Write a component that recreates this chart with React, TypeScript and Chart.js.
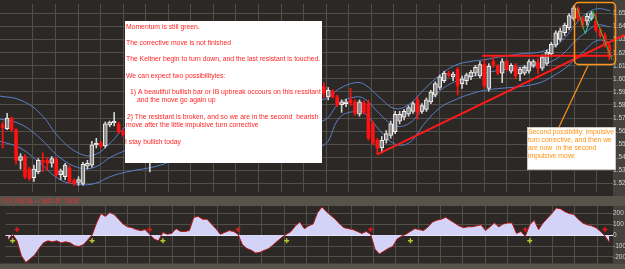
import React, { useEffect, useRef } from "react";
import { Chart, registerables } from "chart.js";
Chart.register(...registerables);

// ---------- DATA ----------
const candleOpen = [1.5648,1.5618,1.5700,1.5611,1.5376,1.5405,1.5310,1.5243,1.5288,1.5376,
 1.5376,1.5354,1.5383,1.5266,1.5251,1.5317,1.5221,1.5207,1.5199,1.5332,
 1.5339,1.5494,1.5508,1.5486,1.5648,1.5663,1.5655,1.5596,1.5574,1.5596,
 1.5611,1.5633,1.5611,1.5545,1.5589,1.5552,1.5611,1.5626,1.5633,1.5663,
 1.5640,1.5648,1.5670,1.5743,1.5780,1.5766,1.5788,1.5751,1.5721,1.5692,
 1.5707,1.5721,1.5714,1.5692,1.5618,1.5589,1.5567,1.5545,1.5574,1.5596,
 1.5611,1.5640,1.5663,1.5685,1.5707,1.5721,1.5766,1.5795,1.5766,1.5780,
 1.5802,1.5868,1.5941,1.5861,1.5905,1.5861,1.5802,1.5810,1.5839,1.5824,
 1.5729,1.5817,1.5810,1.5655,1.5530,1.5471,1.5530,1.5567,1.5596,1.5677,
 1.5707,1.5729,1.5751,1.5839,1.5751,1.5766,1.5824,1.5876,1.5934,1.5986,
 1.6044,1.6015,1.6074,1.5963,1.5986,1.6015,1.6044,1.6022,1.6110,1.5927,
 1.6133,1.6096,1.6044,1.6133,1.6059,1.6096,1.6037,1.6044,1.6059,1.6103,
 1.6125,1.6081,1.6118,1.6191,1.6258,1.6302,1.6353,1.6390,1.6463,1.6537,
 1.6463,1.6441,1.6463,1.6441,1.6375,1.6331,1.6258];
const candleClose = [1.5626,1.5700,1.5611,1.5376,1.5405,1.5251,1.5236,1.5310,1.5376,1.5361,
 1.5354,1.5390,1.5266,1.5295,1.5339,1.5214,1.5199,1.5229,1.5346,1.5354,
 1.5494,1.5508,1.5486,1.5655,1.5670,1.5677,1.5596,1.5574,1.5596,1.5618,
 1.5633,1.5611,1.5574,1.5589,1.5552,1.5618,1.5633,1.5640,1.5663,1.5648,
 1.5655,1.5670,1.5751,1.5780,1.5766,1.5788,1.5751,1.5721,1.5692,1.5707,
 1.5721,1.5714,1.5692,1.5618,1.5589,1.5567,1.5545,1.5574,1.5596,1.5611,
 1.5640,1.5663,1.5685,1.5707,1.5721,1.5766,1.5795,1.5766,1.5780,1.5802,
 1.5868,1.5927,1.5890,1.5912,1.5861,1.5802,1.5824,1.5824,1.5817,1.5736,
 1.5824,1.5743,1.5545,1.5508,1.5471,1.5530,1.5581,1.5655,1.5729,1.5729,
 1.5751,1.5780,1.5810,1.5743,1.5795,1.5839,1.5898,1.5963,1.6015,1.6044,
 1.6030,1.6037,1.5949,1.6000,1.6030,1.6052,1.6088,1.6110,1.5949,1.6096,
 1.6110,1.6044,1.6133,1.6074,1.6103,1.6022,1.6074,1.6088,1.6133,1.6133,
 1.6081,1.6169,1.6206,1.6265,1.6353,1.6368,1.6412,1.6485,1.6544,1.6463,
 1.6412,1.6478,1.6500,1.6375,1.6331,1.6265,1.6184];
const candleHigh = [1.5670,1.5736,1.5707,1.5618,1.5427,1.5420,1.5324,1.5339,1.5390,1.5434,
 1.5398,1.5405,1.5398,1.5310,1.5354,1.5339,1.5236,1.5251,1.5361,1.5376,
 1.5522,1.5545,1.5522,1.5670,1.5677,1.5743,1.5670,1.5611,1.5611,1.5633,
 1.5655,1.5648,1.5626,1.5611,1.5604,1.5633,1.5648,1.5663,1.5685,1.5677,
 1.5670,1.5685,1.5766,1.5802,1.5795,1.5810,1.5802,1.5766,1.5736,1.5721,
 1.5736,1.5736,1.5729,1.5707,1.5633,1.5604,1.5581,1.5589,1.5611,1.5626,
 1.5655,1.5677,1.5700,1.5721,1.5736,1.5780,1.5810,1.5810,1.5795,1.5817,
 1.5883,1.5949,1.5971,1.5934,1.5919,1.5876,1.5839,1.5846,1.5927,1.5839,
 1.5839,1.5831,1.5839,1.5677,1.5545,1.5559,1.5604,1.5677,1.5751,1.5751,
 1.5766,1.5795,1.5824,1.5861,1.5810,1.5854,1.5912,1.5978,1.6030,1.6059,
 1.6059,1.6052,1.6088,1.6022,1.6044,1.6066,1.6103,1.6133,1.6147,1.6118,
 1.6169,1.6110,1.6155,1.6147,1.6118,1.6118,1.6088,1.6103,1.6147,1.6147,
 1.6155,1.6184,1.6221,1.6280,1.6368,1.6390,1.6427,1.6500,1.6559,1.6551,
 1.6478,1.6500,1.6515,1.6500,1.6390,1.6353,1.6280];
const candleLow = [1.5471,1.5611,1.5596,1.5346,1.5310,1.5236,1.5221,1.5214,1.5273,1.5288,
 1.5302,1.5324,1.5251,1.5229,1.5229,1.5199,1.5184,1.5184,1.5184,1.5310,
 1.5324,1.5471,1.5471,1.5471,1.5633,1.5640,1.5581,1.5560,1.5552,1.5581,
 1.5596,1.5589,1.5552,1.5288,1.5530,1.5537,1.5596,1.5611,1.5618,1.5626,
 1.5626,1.5633,1.5655,1.5729,1.5743,1.5751,1.5736,1.5707,1.5677,1.5677,
 1.5692,1.5692,1.5670,1.5604,1.5567,1.5545,1.5522,1.5530,1.5559,1.5581,
 1.5596,1.5626,1.5648,1.5670,1.5692,1.5707,1.5751,1.5743,1.5751,1.5766,
 1.5788,1.5854,1.5854,1.5839,1.5854,1.5788,1.5743,1.5788,1.5795,1.5721,
 1.5714,1.5729,1.5530,1.5494,1.5427,1.5434,1.5508,1.5545,1.5581,1.5655,
 1.5685,1.5714,1.5736,1.5692,1.5736,1.5751,1.5810,1.5861,1.5919,1.5971,
 1.6015,1.5986,1.5876,1.5927,1.5956,1.5993,1.6022,1.6008,1.5927,1.5905,
 1.6088,1.6030,1.5971,1.6059,1.6044,1.6000,1.5986,1.6030,1.6044,1.6088,
 1.6037,1.6066,1.6103,1.6177,1.6243,1.6287,1.6331,1.6375,1.6449,1.6441,
 1.6390,1.6412,1.6449,1.6360,1.6316,1.6243,1.6147];

// Keltner channel readings (bar index -> price)
const bandIdx = [-0.6,3.9,8.4,12.8,17.3,20.7,24.1,27.9,35.3,44.2,53.2,62.2,71.6,75.6,79.0,81.2,84.6,88.0,91.3,94.7,98.1,101.4,104.8,108.1,111.5,116.0,120.5,123.8,126.1,128.3,130.6,133.3,136.2];
const keltnerUpper = [1.5868,1.5839,1.5736,1.5545,1.5427,1.5420,1.5508,1.5640,1.5729,1.5817,1.5839,1.5854,1.5839,1.5927,1.5971,1.5956,1.5854,1.5772,1.5810,1.5927,1.6030,1.6103,1.6133,1.6147,1.6169,1.6191,1.6206,1.6250,1.6316,1.6412,1.6493,1.6537,1.6522];
const keltnerMid = [1.5692,1.5655,1.5545,1.5398,1.5317,1.5324,1.5398,1.5456,1.5545,1.5648,1.5677,1.5721,1.5677,1.5817,1.5861,1.5846,1.5729,1.5640,1.5663,1.5794,1.5912,1.5978,1.6015,1.6044,1.6066,1.6088,1.6103,1.6147,1.6206,1.6287,1.6353,1.6412,1.6397];
const keltnerLower = [1.5522,1.5471,1.5354,1.5229,1.5192,1.5199,1.5251,1.5288,1.5339,1.5456,1.5508,1.5559,1.5486,1.5706,1.5751,1.5736,1.5603,1.5500,1.5515,1.5663,1.5780,1.5839,1.5883,1.5912,1.5927,1.5941,1.5971,1.6030,1.6081,1.6147,1.6221,1.6294,1.6280];

// hand-drawn lines (bar index / price)
const trendIdx = [83.9, 139.5];
const trendVal = [1.5420, 1.6338];
const resistIdx = [107.5, 140];
const resistVal = [1.6177, 1.6177];
const waveAIdx = [128.8, 130.6];
const waveAVal = [1.6544, 1.6346];
const waveBIdx = [130.6, 132.3];
const waveBVal = [1.6346, 1.6507];
const waveCIdx = [132.3, 136.6];
const waveCVal = [1.6522, 1.6147];

const priceTicks = [1.52,1.53,1.54,1.55,1.56,1.57,1.58,1.59,1.60,1.61,1.62,1.63,1.64,1.65];

// CCI(16)
const cciValues = [-43,9,-52,-190,-252,-217,-183,-122,-70,-52,
 -61,-52,-70,-61,-70,-96,-104,-87,-43,3,
 113,200,174,209,191,148,104,78,70,52,
 43,52,9,-35,-52,26,9,17,61,35,
 35,43,165,174,148,148,104,61,9,26,
 43,35,9,-87,-122,-139,-165,-157,-139,-122,
 -87,-52,-17,9,35,87,122,61,87,104,
 209,261,217,183,148,104,70,61,52,35,
 17,35,9,-130,-174,-148,-122,-104,-35,-9,
 9,35,61,52,43,78,122,139,148,165,
 139,113,87,70,78,78,87,96,43,78,
 113,78,104,113,113,17,35,-9,96,139,
 52,113,157,200,252,243,217,200,191,148,
 113,96,87,70,35,-5,-68];
const crossDownIdx = [2, 32, 52, 82, 117, 135];
const crossUpIdx = [1, 19, 35, 63, 91, 118];
const crossMarkLevel = 52;
const cciTicks = [-200, -100, 0, 100, 200];

const leftNote = [
  "Momentum is still green.",
  "The corrective move is not finished",
  "The Keltner begin to turn down, and the last resistant is touched.",
  "We can expect two possibilityies:",
  "1) A beautiful bullish bar or IB upbreak occours on this ressitant",
  "and the move go again up",
  " 2) The resistant is broken, and so we are in the second  bearish",
  "move after the little impulsive turn corrective",
  "I stay bullish today",
];
const rightNote = [
  "Second possibility: impulsive",
  "turn corrective, and then we",
  "are now  in the second",
  "impulsive move",
];
const cciTitle = "CCI_RS(16) \u2014 last=-67.73402";

// ---------- STYLE / LAYOUT ----------
const FONT = "'Liberation Sans', Arial, sans-serif";
const BG = "#2b2825";
const GRID = "#524e49";
const STRIP = "#45413c";
const BAR = "#58544c";
const LABEL = "#d2d2d2";
const X_MIN = -0.6, X_MAX = 136.84;
const GRID_START = 6.79, GRID_STEP = 5.058, GRID_COUNT = 26;
const AXIS_W = 12;

const leftNoteLayout = { box: [125, 21, 197, 142], pos: [[126,27],[126,43],[126,59],[126,76],[130,92],[137,100],[125,117],[126,125],[125,142]] };
const rightNoteLayout = { box: [527, 127, 89, 43], x: 528, ys: [132, 140, 148, 156] };

function xGrid(scale: any) {
  const t: any[] = [];
  for (let k = 0; k < GRID_COUNT; k++) t.push({ value: GRID_START + GRID_STEP * k });
  scale.ticks = t;
}

const xScale = () => ({
  type: "linear", min: X_MIN, max: X_MAX, offset: false,
  afterBuildTicks: xGrid,
  afterFit: (s: any) => { s.height = 0; },
  ticks: { display: false },
  grid: { color: GRID, lineWidth: 1, drawTicks: false, offset: false },
  border: { display: false },
});

const pts = (xs: number[], ys: number[]) => xs.map((x, k) => ({ x, y: ys[k] }));

export default function App() {
  const mainRef = useRef<HTMLCanvasElement>(null);
  const cciRef = useRef<HTMLCanvasElement>(null);

  useEffect(() => {
    const idx = candleOpen.map((_, i) => i);
    const bull = idx.filter((i) => candleClose[i] >= candleOpen[i]);
    const bear = idx.filter((i) => candleClose[i] < candleOpen[i]);

    const bgPlugin = {
      id: "bgMain",
      beforeDraw(chart: any) {
        const { ctx, width, height, chartArea } = chart;
        ctx.save();
        ctx.fillStyle = BG;
        ctx.fillRect(0, 0, width, height);
        ctx.fillStyle = STRIP;
        ctx.fillRect(chartArea.right, 0, width - chartArea.right, height);
        ctx.restore();
      },
    };

    const notesPlugin = {
      id: "notes",
      afterDraw(chart: any) {
        const ctx = chart.ctx;
        ctx.save();
        const b = leftNoteLayout.box;
        ctx.fillStyle = "#ffffff";
        ctx.fillRect(b[0], b[1], b[2], b[3]);
        ctx.font = `6.8px ${FONT}`;
        ctx.textBaseline = "middle";
        ctx.textAlign = "left";
        ctx.fillStyle = "#ff2424";
        leftNote.forEach((t, k) => {
          const p = leftNoteLayout.pos[k];
          ctx.fillText(t, p[0], p[1], b[0] + b[2] - p[0] - 1);
        });
        ctx.strokeStyle = "#ff9418";
        ctx.lineWidth = 1.5;
        ctx.beginPath();
        (ctx as any).roundRect(574.5, 2.5, 41, 62, 4);
        ctx.stroke();
        ctx.lineWidth = 1.2;
        ctx.beginPath();
        ctx.moveTo(588, 65.5);
        ctx.lineTo(559, 127);
        ctx.stroke();
        const r = rightNoteLayout.box;
        ctx.fillStyle = "#ffffff";
        ctx.fillRect(r[0], r[1], r[2], r[3]);
        ctx.strokeStyle = "#c8c8c8";
        ctx.lineWidth = 1;
        ctx.strokeRect(r[0] + 0.5, r[1] + 0.5, r[2] - 1, r[3] - 1);
        ctx.fillStyle = "#ff9312";
        ctx.font = `6.8px ${FONT}`;
        rightNote.forEach((t, k) => ctx.fillText(t, rightNoteLayout.x, rightNoteLayout.ys[k], r[2] - 3));
        ctx.restore();
      },
    };

    const line = (label: string, data: any[], color: string, width: number, order: number, extra: any = {}) => ({
      type: "line", label, data, borderColor: color, borderWidth: width, pointRadius: 0, fill: false, order, ...extra,
    });

    const main = new Chart(mainRef.current as any, {
      type: "line",
      data: {
        datasets: [
          line("wave A", pts(waveAIdx, waveAVal), "#2bc43a", 1, 0),
          line("wave B", pts(waveBIdx, waveBVal), "#3fd8d0", 1, 0),
          line("wave C", pts(waveCIdx, waveCVal), "#2bc43a", 1, 0),
          line("trend", pts(trendIdx, trendVal), "#ff1a1a", 2, 1, { clip: false }),
          line("resistance", pts(resistIdx, resistVal), "#ff1a1a", 2, 1),
          {
            type: "bar", label: "bull body", order: 2, grouped: false,
            data: bull.map((i) => ({ x: i, y: [candleOpen[i], candleClose[i]] })),
            backgroundColor: "#8c8c8c", borderColor: "#f2f2f2", borderWidth: 1, borderSkipped: false, barThickness: 4,
          },
          {
            type: "bar", label: "bear body", order: 2, grouped: false,
            data: bear.map((i) => ({ x: i, y: [candleOpen[i], candleClose[i]] })),
            backgroundColor: "#ff1212", borderWidth: 0, barThickness: 3,
          },
          {
            type: "bar", label: "bull wick", order: 3, grouped: false,
            data: bull.map((i) => ({ x: i, y: [candleLow[i], candleHigh[i]] })),
            backgroundColor: "#d0d0d0", borderWidth: 0, barThickness: 1,
          },
          {
            type: "bar", label: "bear wick", order: 3, grouped: false,
            data: bear.map((i) => ({ x: i, y: [candleLow[i], candleHigh[i]] })),
            backgroundColor: "#ff1212", borderWidth: 0, barThickness: 1,
          },
          line("upper", pts(bandIdx, keltnerUpper), "#5b7fc6", 1, 4, { tension: 0.4 }),
          line("middle", pts(bandIdx, keltnerMid), "#5b7fc6", 1, 4, { tension: 0.4 }),
          line("lower", pts(bandIdx, keltnerLower), "#5b7fc6", 1, 4, { tension: 0.4 }),
        ] as any,
      },
      options: {
        responsive: false, animation: false, devicePixelRatio: 1, events: [],
        layout: { padding: 0 },
        plugins: { legend: { display: false }, tooltip: { enabled: false } },
        scales: {
          x: xScale() as any,
          y: {
            type: "linear", position: "right", min: 1.5133, max: 1.6574, beginAtZero: false,
            afterBuildTicks: (s: any) => { s.ticks = priceTicks.map((v) => ({ value: v })); },
            afterFit: (s: any) => { s.width = AXIS_W; },
            ticks: { color: LABEL, padding: 0, font: { size: 6.5, family: FONT }, callback: (v: any) => Number(v).toFixed(4) },
            grid: { color: GRID, lineWidth: 1, drawTicks: false },
            border: { display: false },
          },
        },
      } as any,
      plugins: [bgPlugin, notesPlugin],
    });

    const cciBg = {
      id: "bgCci",
      beforeDraw(chart: any) {
        const { ctx, width, height, chartArea } = chart;
        ctx.save();
        ctx.fillStyle = BG;
        ctx.fillRect(0, 0, width, height);
        ctx.fillStyle = STRIP;
        ctx.fillRect(chartArea.right, chartArea.top, width - chartArea.right, chartArea.bottom - chartArea.top);
        ctx.fillStyle = BAR;
        ctx.fillRect(0, 0, width, chartArea.top);
        ctx.fillRect(0, chartArea.bottom, width, height - chartArea.bottom);
        ctx.font = `6.5px ${FONT}`;
        ctx.textBaseline = "middle";
        ctx.fillStyle = "#e83030";
        ctx.fillText(cciTitle, 2, chartArea.top / 2 + 0.5, 77);
        ctx.restore();
      },
    };

    const cci = new Chart(cciRef.current as any, {
      type: "line",
      data: {
        datasets: [
          {
            label: "down cross", data: crossDownIdx.map((i) => ({ x: i, y: crossMarkLevel })),
            showLine: false, pointStyle: "cross", pointRadius: 2.5, borderColor: "#e01818", borderWidth: 1.5, order: 0,
          },
          {
            label: "up cross", data: crossUpIdx.map((i) => ({ x: i, y: -crossMarkLevel })),
            showLine: false, pointStyle: "cross", pointRadius: 2.5, borderColor: "#b8c830", borderWidth: 1.5, order: 0,
          },
          {
            label: "CCI", data: cciValues.map((v, i) => ({ x: i, y: v })),
            borderColor: "#b41616", borderWidth: 1, pointRadius: 0, tension: 0,
            backgroundColor: "#d3d3f8",
            fill: { target: "origin", above: "#d3d3f8", below: "#d3d3f8" }, order: 1,
          },
        ] as any,
      },
      options: {
        responsive: false, animation: false, devicePixelRatio: 1, events: [],
        layout: { padding: { top: 10, bottom: 2, left: 0, right: 0 } },
        plugins: { legend: { display: false }, tooltip: { enabled: false } },
        scales: {
          x: xScale() as any,
          y: {
            type: "linear", position: "right", min: -261, max: 270, beginAtZero: false,
            afterBuildTicks: (s: any) => { s.ticks = cciTicks.map((v) => ({ value: v })); },
            afterFit: (s: any) => { s.width = AXIS_W; },
            ticks: { color: LABEL, padding: 0, font: { size: 6.5, family: FONT }, callback: (v: any) => String(v) },
            grid: { color: (c: any) => (c.tick && c.tick.value === 0 ? "#ecebf8" : GRID), lineWidth: 1, drawTicks: false },
            border: { display: false },
          },
        },
      } as any,
      plugins: [cciBg],
    });

    return () => { main.destroy(); cci.destroy(); };
  }, []);

  return (
    <div style={{ position: "fixed", left: 0, top: 0, width: 625, height: 269, background: BG, overflow: "hidden" }}>
      <canvas ref={mainRef} width={625} height={196} style={{ display: "block", width: 625, height: 196 }} />
      <canvas ref={cciRef} width={625} height={73} style={{ display: "block", width: 625, height: 73 }} />
    </div>
  );
}
